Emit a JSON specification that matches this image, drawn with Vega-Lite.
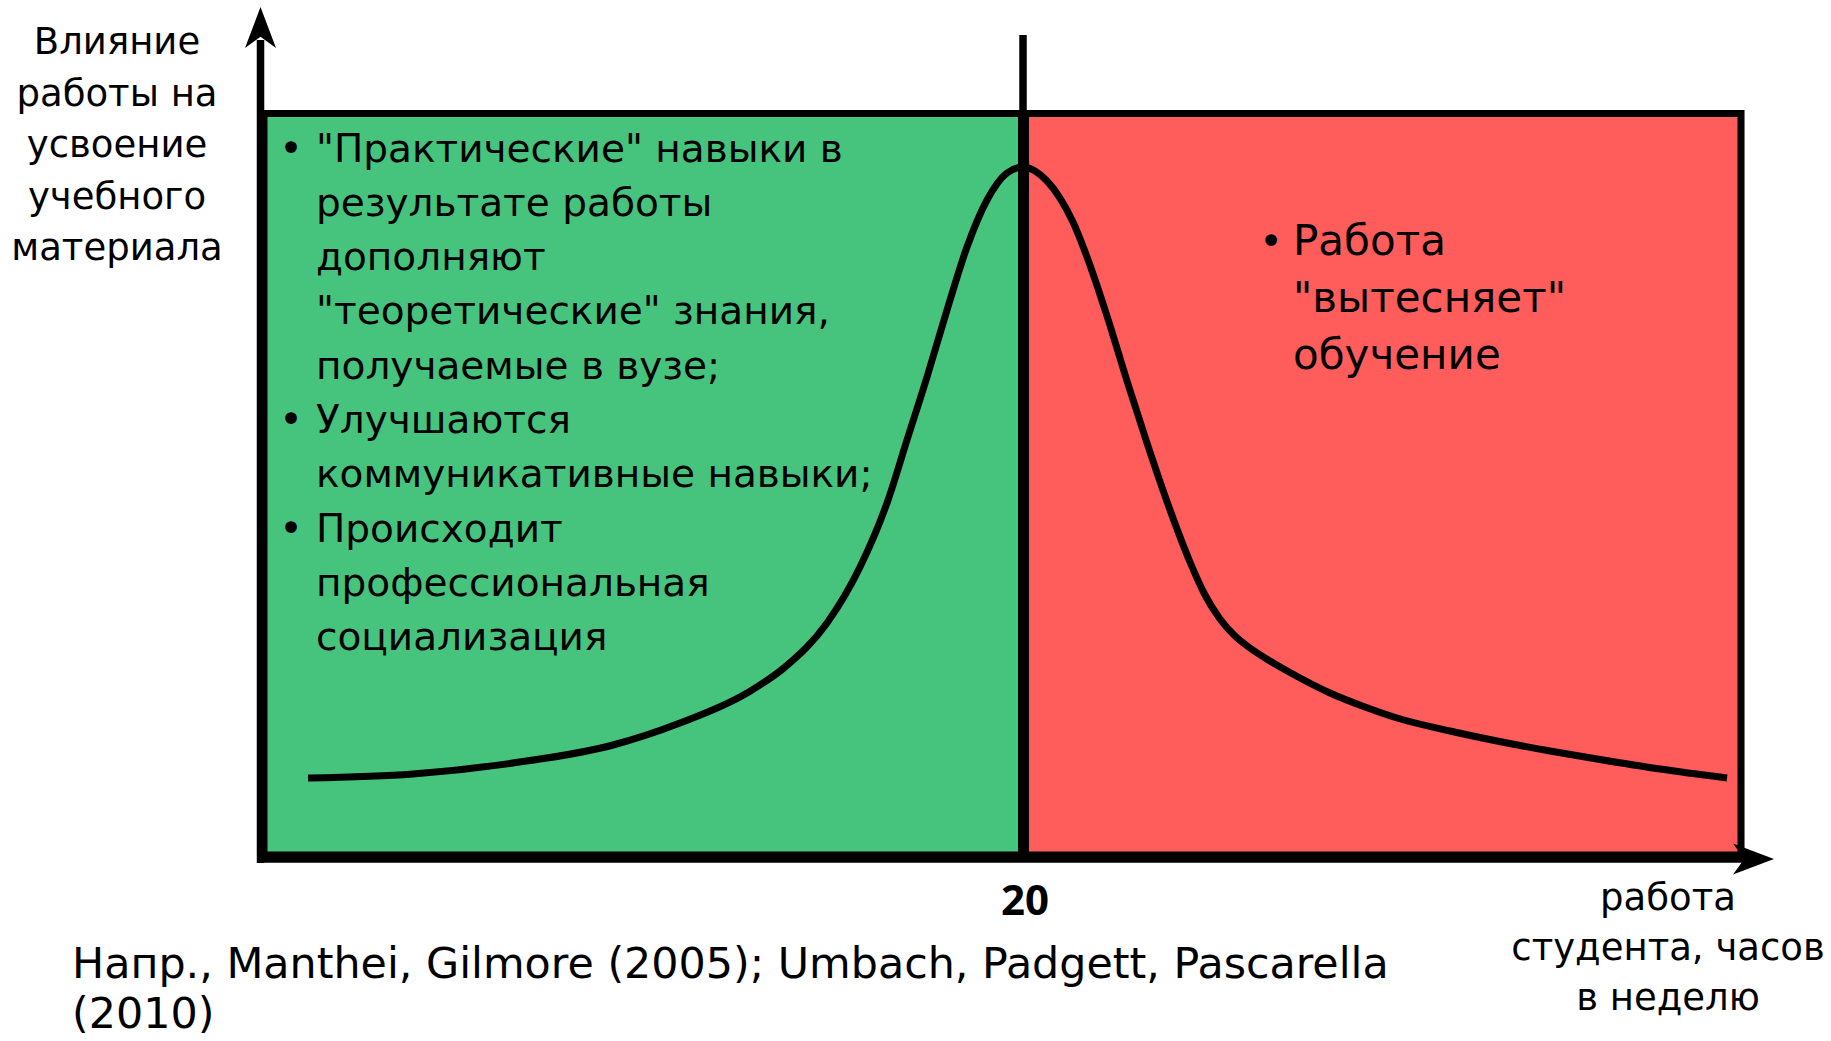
{
  "$schema": "https://vega.github.io/schema/vega-lite/v6.json",
  "width": 1831,
  "height": 1041,
  "autosize": "none",
  "padding": 0,
  "background": "white",
  "config": {"view": {"stroke": null}},
  "datasets": {
    "zones": [
      {"zone": "польза", "x": 0.092, "x2": 19.961, "y": 0.537, "y2": 100},
      {"zone": "вред", "x": 20.066, "x2": 38.833, "y": 0.537, "y2": 100}
    ],
    "axes": [
      {"x": 0, "x2": 0, "y": -0.537, "y2": 109.86},
      {"x": -0.092, "x2": 38.95, "y": 0, "y2": 0},
      {"x": 20, "x2": 20, "y": 0.537, "y2": 110.53}
    ],
    "curve": [
      {"x": 1.246, "y": 10.865},
      {"x": 4.0, "y": 11.402},
      {"x": 6.623, "y": 12.877},
      {"x": 9.246, "y": 15.292},
      {"x": 11.003, "y": 18.243},
      {"x": 12.761, "y": 22.267},
      {"x": 13.757, "y": 25.755},
      {"x": 14.859, "y": 31.657},
      {"x": 15.725, "y": 39.168},
      {"x": 16.433, "y": 47.753},
      {"x": 16.957, "y": 56.204},
      {"x": 17.482, "y": 64.655},
      {"x": 18.007, "y": 73.642},
      {"x": 18.531, "y": 82.093},
      {"x": 19.056, "y": 88.397},
      {"x": 19.58, "y": 92.018},
      {"x": 20.0, "y": 92.823},
      {"x": 20.315, "y": 92.287},
      {"x": 20.63, "y": 90.946},
      {"x": 20.97, "y": 88.665},
      {"x": 21.311, "y": 85.446},
      {"x": 21.679, "y": 80.751},
      {"x": 22.203, "y": 72.837},
      {"x": 22.728, "y": 64.118},
      {"x": 23.252, "y": 55.801},
      {"x": 23.856, "y": 46.814},
      {"x": 24.38, "y": 39.839},
      {"x": 24.774, "y": 35.413},
      {"x": 25.167, "y": 32.193},
      {"x": 25.561, "y": 29.913},
      {"x": 25.954, "y": 28.303},
      {"x": 26.479, "y": 26.559},
      {"x": 27.266, "y": 24.279},
      {"x": 28.052, "y": 22.267},
      {"x": 28.97, "y": 20.389},
      {"x": 29.81, "y": 18.914},
      {"x": 31.2, "y": 17.17},
      {"x": 32.433, "y": 15.828},
      {"x": 33.823, "y": 14.487},
      {"x": 35.056, "y": 13.414},
      {"x": 36.708, "y": 12.072},
      {"x": 38.466, "y": 10.865}
    ],
    "arrows": [
      {"dir": "up", "x": 0, "y": 111.54},
      {"dir": "right", "x": 39.16, "y": 0}
    ],
    "ylabel": [
      {"x": -3.764, "y": 107.98, "text": "Влияние\nработы на\nусвоение\nучебного\nматериала"}
    ],
    "xlabel": [
      {"x": 36.918, "y": -6.841, "text": "работа\nстудента, часов\nв неделю"}
    ],
    "tick": [
      {"x": 20.052, "y": -7.512, "text": "20"}
    ],
    "lefttext": [
      {"x": 1.456, "y": 93.56, "text": "\"Практические\" навыки в\nрезультате работы\nдополняют\n\"теоретические\" знания,\nполучаемые в вузе;\nУлучшаются\nкоммуникативные навыки;\nПроисходит\nпрофессиональная\nсоциализация"}
    ],
    "righttext": [
      {"x": 27.082, "y": 81.02, "text": "Работа\n\"вытесняет\"\nобучение"}
    ],
    "bullets": [
      {"x": 0.8, "y": 93.56, "text": "•"},
      {"x": 0.8, "y": 57.14, "text": "•"},
      {"x": 0.8, "y": 42.58, "text": "•"},
      {"x": 26.505, "y": 81.02, "text": "•"}
    ],
    "citation": [
      {"x": -4.944, "y": -15.963, "text": "Напр., Manthei, Gilmore (2005); Umbach, Padgett, Pascarella\n(2010)"}
    ]
  },
  "encoding": {
    "x": {"field": "x", "type": "quantitative", "scale": {"domain": [-6.833, 41.193], "nice": false, "zero": false}, "axis": null},
    "y": {"field": "y", "type": "quantitative", "scale": {"domain": [-24.413, 115.225], "nice": false, "zero": false}, "axis": null}
  },
  "layer": [
    {
      "data": {"name": "zones"},
      "mark": {"type": "rect", "stroke": "black", "strokeWidth": 7, "opacity": 1},
      "encoding": {
        "x2": {"field": "x2"},
        "y2": {"field": "y2"},
        "color": {"field": "zone", "type": "nominal", "scale": {"domain": ["польза", "вред"], "range": ["#46C47E", "#FF5C5C"]}, "legend": null}
      }
    },
    {
      "data": {"name": "axes"},
      "mark": {"type": "rule", "color": "black", "strokeWidth": 7.5},
      "encoding": {"x2": {"field": "x2"}, "y2": {"field": "y2"}}
    },
    {
      "data": {"name": "curve"},
      "mark": {"type": "line", "color": "black", "strokeWidth": 7, "interpolate": "monotone"},
      "encoding": {}
    },
    {
      "data": {"name": "arrows"},
      "mark": {"type": "point", "filled": true, "color": "black", "opacity": 1, "size": 1681, "strokeWidth": 0},
      "encoding": {
        "shape": {"field": "dir", "type": "nominal", "scale": {"domain": ["up", "right"], "range": ["M0,-1L0.756,1L0,0.45L-0.756,1Z", "M1,0L-1,0.756L-0.45,0L-1,-0.756Z"]}, "legend": null}
      }
    },
    {
      "data": {"name": "ylabel"},
      "mark": {"type": "text", "font": "DejaVu Sans", "fontSize": 37, "align": "center", "baseline": "alphabetic", "lineBreak": "\n", "lineHeight": 51.5, "color": "black"},
      "encoding": {"text": {"field": "text"}}
    },
    {
      "data": {"name": "xlabel"},
      "mark": {"type": "text", "font": "DejaVu Sans", "fontSize": 37, "align": "center", "baseline": "alphabetic", "lineBreak": "\n", "lineHeight": 50, "color": "black"},
      "encoding": {"text": {"field": "text"}}
    },
    {
      "data": {"name": "tick"},
      "mark": {"type": "text", "font": "Open Sans", "fontWeight": "bold", "fontSize": 42, "align": "center", "baseline": "alphabetic", "color": "black"},
      "encoding": {"text": {"field": "text"}}
    },
    {
      "data": {"name": "lefttext"},
      "mark": {"type": "text", "font": "DejaVu Sans", "fontSize": 39, "align": "left", "baseline": "alphabetic", "lineBreak": "\n", "lineHeight": 54.3, "color": "black"},
      "encoding": {"text": {"field": "text"}}
    },
    {
      "data": {"name": "righttext"},
      "mark": {"type": "text", "font": "DejaVu Sans", "fontSize": 42, "align": "left", "baseline": "alphabetic", "lineBreak": "\n", "lineHeight": 57, "color": "black"},
      "encoding": {"text": {"field": "text"}}
    },
    {
      "data": {"name": "bullets"},
      "mark": {"type": "text", "font": "DejaVu Sans", "fontSize": 40, "align": "center", "baseline": "alphabetic", "color": "black"},
      "encoding": {"text": {"field": "text"}}
    },
    {
      "data": {"name": "citation"},
      "mark": {"type": "text", "font": "DejaVu Sans", "fontSize": 42.8, "align": "left", "baseline": "alphabetic", "lineBreak": "\n", "lineHeight": 50, "color": "black"},
      "encoding": {"text": {"field": "text"}}
    }
  ]
}
